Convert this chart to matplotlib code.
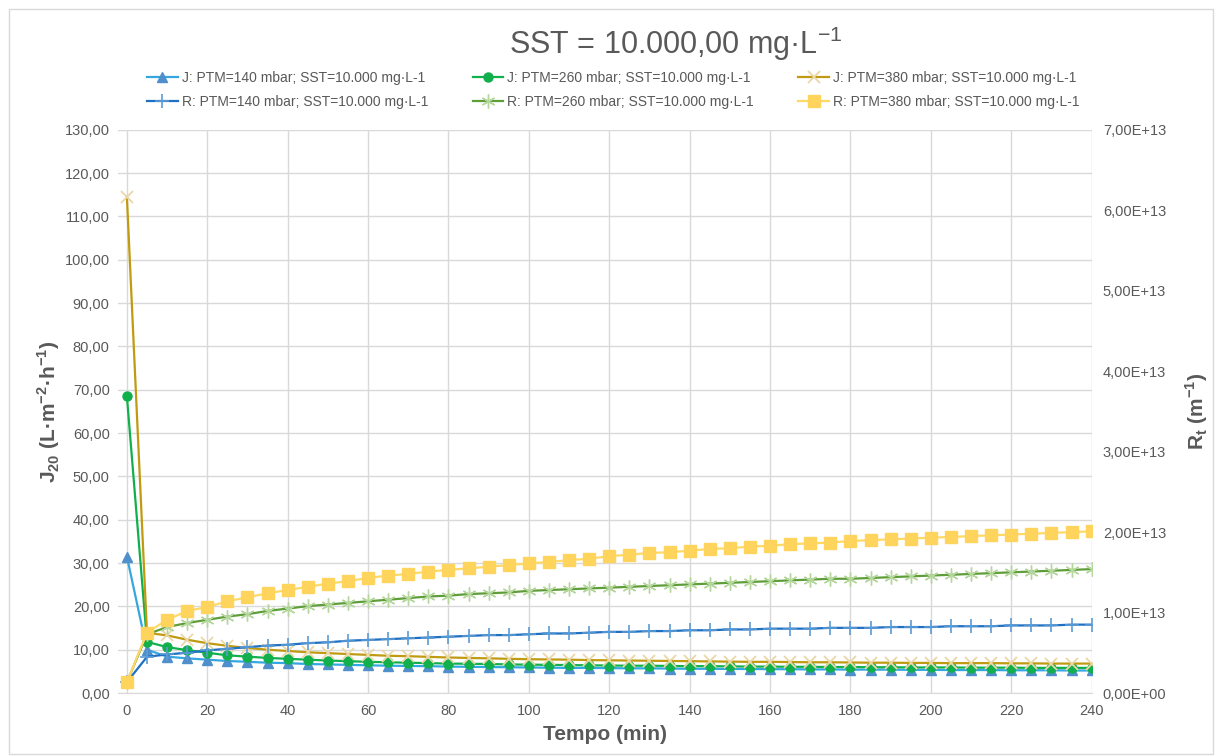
import numpy as np
import matplotlib
matplotlib.use("Agg")
import matplotlib.pyplot as plt
from matplotlib.ticker import FuncFormatter, MultipleLocator
from matplotlib.patches import Rectangle

plt.rcParams['font.family'] = ['Liberation Sans', 'DejaVu Sans']

# tempo (min), uma medida a cada 5 min
tempo = np.arange(0, 245, 5)

# fluxo J20 (L·m-2·h-1)
j_140 = [31.5, 10.0, 8.4, 8.0, 7.7, 7.4, 7.2, 7.0, 6.9, 6.7,
         6.6, 6.5, 6.4, 6.3, 6.25, 6.2, 6.1, 6.05, 6.0, 5.95,
         5.9, 5.85, 5.8, 5.8, 5.75, 5.7, 5.7, 5.65, 5.6, 5.6,
         5.55, 5.55, 5.5, 5.5, 5.45, 5.45, 5.4, 5.4, 5.4, 5.35,
         5.35, 5.3, 5.3, 5.3, 5.25, 5.25, 5.25, 5.2, 5.2]
j_260 = [68.5, 11.8, 10.6, 9.9, 9.3, 8.7, 8.4, 8.1, 7.9, 7.7,
         7.5, 7.35, 7.2, 7.1, 7.0, 6.9, 6.8, 6.75, 6.7, 6.6,
         6.55, 6.5, 6.45, 6.4, 6.35, 6.3, 6.3, 6.25, 6.2, 6.2,
         6.15, 6.1, 6.1, 6.05, 6.05, 6.0, 6.0, 5.95, 5.95, 5.9,
         5.9, 5.9, 5.85, 5.85, 5.85, 5.8, 5.8, 5.8, 5.8]
j_380 = [114.5, 13.9, 13.3, 12.3, 11.5, 10.9, 10.4, 10.0, 9.7, 9.4,
         9.2, 9.0, 8.8, 8.6, 8.5, 8.35, 8.2, 8.1, 8.0, 7.9,
         7.8, 7.75, 7.7, 7.6, 7.55, 7.5, 7.45, 7.4, 7.35, 7.3,
         7.25, 7.2, 7.2, 7.15, 7.1, 7.1, 7.05, 7.0, 7.0, 6.95,
         6.95, 6.9, 6.9, 6.9, 6.85, 6.85, 6.8, 6.8, 6.8]

# resistencia total Rt (x1e13 m-1)
r_140 = [0.135, 0.45, 0.48, 0.50, 0.53, 0.55, 0.57, 0.59, 0.60, 0.62,
         0.63, 0.65, 0.66, 0.67, 0.68, 0.69, 0.70, 0.71, 0.72, 0.72,
         0.73, 0.74, 0.74, 0.75, 0.76, 0.76, 0.77, 0.77, 0.78, 0.78,
         0.79, 0.79, 0.80, 0.80, 0.80, 0.81, 0.81, 0.81, 0.82, 0.82,
         0.82, 0.83, 0.83, 0.83, 0.84, 0.84, 0.84, 0.85, 0.85]
r_260 = [0.135, 0.73, 0.82, 0.87, 0.91, 0.95, 0.98, 1.02, 1.05, 1.08,
         1.10, 1.12, 1.14, 1.16, 1.18, 1.20, 1.21, 1.23, 1.24, 1.25,
         1.27, 1.28, 1.29, 1.30, 1.31, 1.32, 1.33, 1.34, 1.35, 1.36,
         1.37, 1.38, 1.39, 1.40, 1.41, 1.42, 1.42, 1.43, 1.44, 1.45,
         1.46, 1.47, 1.48, 1.49, 1.50, 1.51, 1.52, 1.53, 1.54]
r_380 = [0.135, 0.75, 0.91, 1.02, 1.07, 1.14, 1.19, 1.24, 1.28, 1.32,
         1.36, 1.39, 1.43, 1.46, 1.48, 1.51, 1.53, 1.55, 1.57, 1.59,
         1.61, 1.63, 1.65, 1.67, 1.70, 1.72, 1.74, 1.75, 1.77, 1.79,
         1.80, 1.82, 1.83, 1.85, 1.86, 1.87, 1.89, 1.90, 1.91, 1.92,
         1.93, 1.94, 1.95, 1.96, 1.97, 1.98, 1.99, 2.00, 2.01]

nomes_j = ["J: PTM=140 mbar; SST=10.000 mg·L-1",
           "J: PTM=260 mbar; SST=10.000 mg·L-1",
           "J: PTM=380 mbar; SST=10.000 mg·L-1"]
nomes_r = ["R: PTM=140 mbar; SST=10.000 mg·L-1",
           "R: PTM=260 mbar; SST=10.000 mg·L-1",
           "R: PTM=380 mbar; SST=10.000 mg·L-1"]

cinza = '#595959'

fig = plt.figure(figsize=(12.17, 7.56), dpi=100)
fig.patches.append(Rectangle((0.007, 0.003), 0.99, 0.985, transform=fig.transFigure,
                             fill=False, edgecolor='#d9d9d9', lw=1))
ax = fig.add_axes([0.097, 0.0833, 0.8, 0.745])
ax2 = ax.twinx()

h1, = ax.plot(tempo, j_140, color='#35a7e0', lw=1.6, marker='^', ms=6.5,
              mfc='#4f8fcb', mec='#4f8fcb', label=nomes_j[0])
h3, = ax.plot(tempo, j_260, color='#12b04c', lw=1.6, marker='o', ms=6.5,
              mfc='#12b04c', mec='#12b04c', label=nomes_j[1])
h5, = ax.plot(tempo, j_380, color='#c09a10', lw=1.6, marker='x', ms=9,
              mec='#ead7a8', mew=1.3, label=nomes_j[2])

r_scale = 1e13
h2, = ax2.plot(tempo, np.array(r_140) * r_scale, color='#1f6fc2', lw=1.6, marker='+',
               ms=10, mec='#5b9bd5', mew=1.2, label=nomes_r[0])
h4, = ax2.plot(tempo, np.array(r_260) * r_scale, color='#5e9e38', lw=1.6, marker=(6, 2, 0),
               ms=10, mec='#b5d69c', mew=1.0, label=nomes_r[1])
h6, = ax2.plot(tempo, np.array(r_380) * r_scale, color='#ffd966', lw=1.6, marker='s',
               ms=9, mfc='#ffd45c', mec='#ffd45c', label=nomes_r[2])

ax.set_xlim(-2.2, 240)
ax.set_ylim(0, 130)
ax2.set_ylim(0, 7e13)
ax.xaxis.set_major_locator(MultipleLocator(20))
ax.yaxis.set_major_locator(MultipleLocator(10))
ax2.yaxis.set_major_locator(MultipleLocator(1e13))
ax.yaxis.set_major_formatter(FuncFormatter(lambda v, p: f"{v:.2f}".replace('.', ',')))
ax2.yaxis.set_major_formatter(FuncFormatter(lambda v, p: f"{v:.2E}".replace('.', ',')))

ax.grid(True, color='#d9d9d9', lw=1)
ax.set_axisbelow(True)
for a in (ax, ax2):
    for s in a.spines.values():
        s.set_visible(False)
    a.tick_params(length=0, labelsize=10.5, labelcolor=cinza)
ax.spines['bottom'].set_visible(True)
ax.spines['bottom'].set_color('#d9d9d9')
ax.tick_params(axis='x', pad=8)
ax.tick_params(axis='y', pad=6)
ax2.tick_params(axis='y', pad=8)

ax.set_xlabel("Tempo (min)", fontsize=15, fontweight='bold', color=cinza, labelpad=5)
ax.set_ylabel(r"J$_{\mathregular{20}}$ (L·m$^{\mathregular{-2}}$·h$^{\mathregular{-1}}$)",
              fontsize=15, fontweight='bold', color=cinza, labelpad=2)
ax2.set_ylabel(r"R$_{\mathregular{t}}$ (m$^{\mathregular{-1}}$)", fontsize=15,
               fontweight='bold', color=cinza, labelpad=12)

fig.text(0.555, 0.942, r"SST = 10.000,00 mg·L$^{\mathregular{-1}}$", ha='center',
         va='center', fontsize=22, color=cinza)

fig.legend(handles=[h1, h2, h3, h4, h5, h6], loc='center', bbox_to_anchor=(0.504, 0.881),
           ncol=3, frameon=False, fontsize=10, handlelength=2.2, columnspacing=3.2,
           labelspacing=0.75, handletextpad=0.3, labelcolor=cinza)

fig.savefig("out.png", dpi=100)
